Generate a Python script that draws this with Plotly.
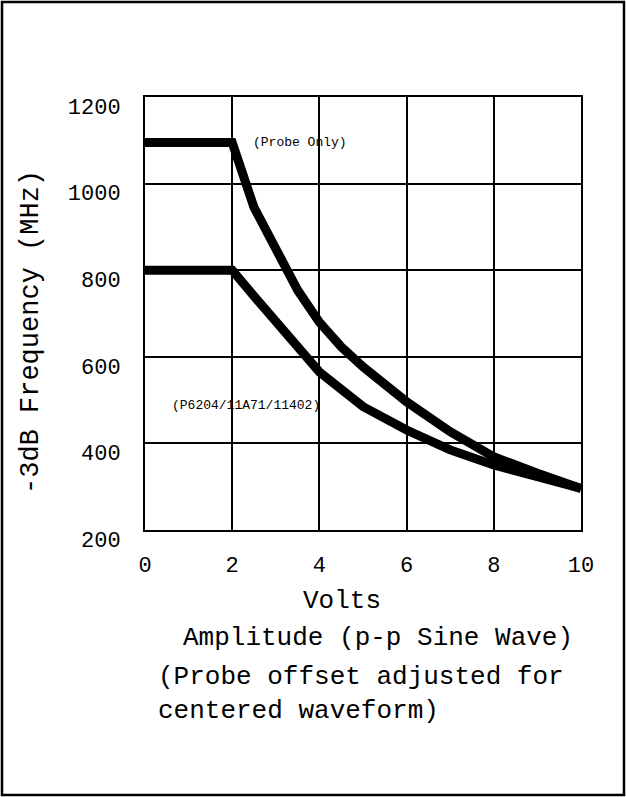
import plotly.graph_objects as go

# Data
volts_probe = [0, 2, 2.5, 3, 3.5, 4, 4.5, 5, 5.5, 6, 7, 8, 9, 10]
freq_probe_only = [1095, 1095, 945, 852, 754, 680, 623, 577, 535, 496, 427, 369, 331, 296]

volts_system = [0, 2, 2.5, 3, 3.5, 4, 5, 6, 7, 8, 9, 10]
freq_system = [800, 800, 740, 680, 622, 565, 485, 431, 385, 350, 323, 296]

x_ticks = [0, 2, 4, 6, 8, 10]
y_ticks = [200, 400, 600, 800, 1000, 1200]

FONT = "Liberation Mono"
W, H = 626, 797
ML, MR, MT, MB = 145, 45, 97, 267
PW, PH = W - ML - MR, H - MT - MB

fig = go.Figure()
fig.add_trace(go.Scatter(x=volts_probe, y=freq_probe_only, mode="lines",
                         line=dict(color="black", width=9), showlegend=False))
fig.add_trace(go.Scatter(x=volts_system, y=freq_system, mode="lines",
                         line=dict(color="black", width=9), showlegend=False))

def px_x(p):
    return (p - ML) / PW

def px_y(p):
    return 1 - (p - MT) / PH

def ann_px(x, y, text, size, xanchor="center", angle=0, align="center"):
    return dict(x=px_x(x), y=px_y(y), xref="paper", yref="paper", text=text,
                showarrow=False, xanchor=xanchor, yanchor="middle", textangle=angle,
                align=align, font=dict(family=FONT, size=size, color="black"))

annotations = [
    dict(x=2.44, y=1095, xref="x", yref="y", text="(Probe Only)", showarrow=False,
         xanchor="left", font=dict(family=FONT, size=13, color="black")),
    dict(x=0.58, y=488, xref="x", yref="y", text="(P6204/11A71/11402)", showarrow=False,
         xanchor="left", font=dict(family=FONT, size=13, color="black")),
    ann_px(31, 332, "-3dB Frequency (MHz)", 27, angle=-90),
    ann_px(342, 601, "Volts", 26),
    ann_px(378, 638, "Amplitude (p-p Sine Wave)", 26),
    ann_px(156, 694, "(Probe offset adjusted for<br>centered waveform)", 26,
           xanchor="left", align="left"),
]

fig.add_shape(type="rect", xref="paper", yref="paper",
              x0=px_x(2), x1=px_x(W - 2), y0=px_y(H - 2), y1=px_y(2),
              line=dict(color="black", width=2.5), layer="below")

fig.update_layout(
    width=W, height=H,
    margin=dict(l=ML, r=MR, t=MT, b=MB),
    paper_bgcolor="white", plot_bgcolor="white",
    font=dict(family=FONT, color="black"),
    annotations=annotations,
    showlegend=False,
)
fig.update_xaxes(range=[0, 10], tickvals=x_ticks, ticktext=[str(v) for v in x_ticks],
                 showgrid=True, gridcolor="black", gridwidth=1.5,
                 showline=True, linecolor="black", linewidth=2, mirror=True,
                 zeroline=False, ticks="", ticklabelstandoff=14,
                 tickfont=dict(family=FONT, size=22, color="black"))
fig.update_yaxes(range=[200, 1200], tickvals=y_ticks, ticktext=[str(v) for v in y_ticks],
                 showgrid=True, gridcolor="black", gridwidth=1.5,
                 showline=True, linecolor="black", linewidth=2, mirror=True,
                 zeroline=False, ticks="", ticklabelstandoff=18, ticklabelshift=9,
                 tickfont=dict(family=FONT, size=22, color="black"))

fig.write_html("out.html", config={"displayModeBar": False},
               post_script="document.body.style.margin='0';")
